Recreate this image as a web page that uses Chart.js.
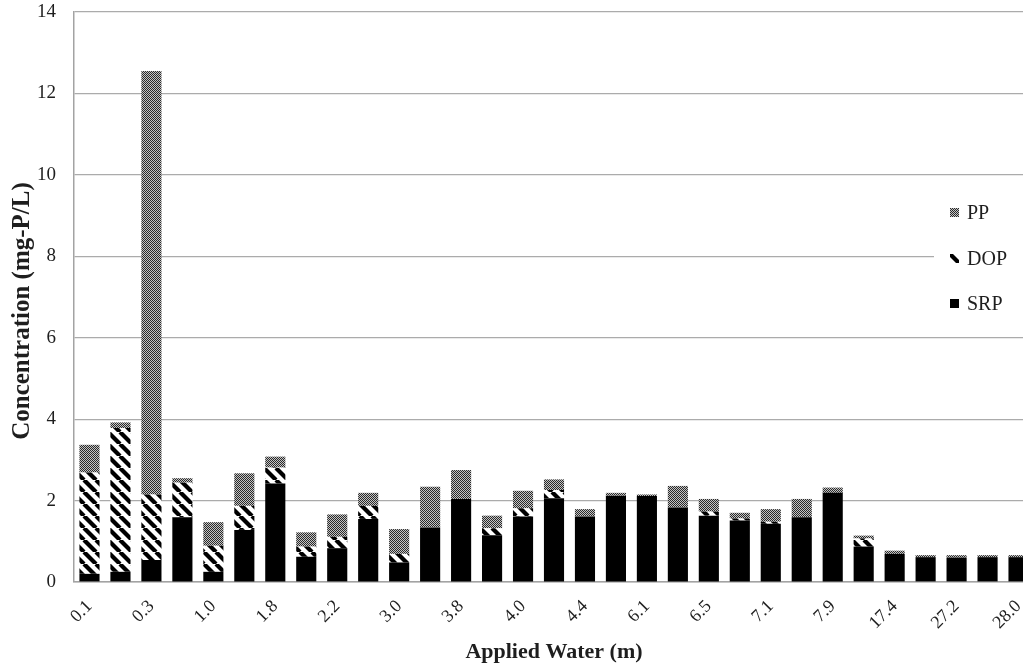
<!DOCTYPE html>
<html>
<head>
<meta charset="utf-8">
<script src="https://cdn.jsdelivr.net/npm/chart.js@4"></script>
<style>
  html, body { margin: 0; padding: 0; overflow: hidden; background: #fff; }
  #wrap { width: 1036px; height: 668px; position: relative; }
</style>
</head>
<body>
<div id="wrap"><canvas id="chart"></canvas></div>
<script>
// applied water (m) - only every other label is printed on the axis
const categories = ["0.1", "0.2", "0.3", "0.6", "1.0", "1.4", "1.8", "2.0", "2.2", "2.6",
  "3.0", "3.4", "3.8", "3.9", "4.0", "4.2", "4.4", "5.2", "6.1", "6.3",
  "6.5", "6.8", "7.1", "7.5", "7.9", "12.6", "17.4", "22.3", "27.2", "27.6", "28.0"];

const srp = [0.20, 0.25, 0.54, 1.59, 0.25, 1.28, 2.42, 0.62, 0.83, 1.55,
  0.48, 1.34, 2.04, 1.15, 1.61, 2.06, 1.61, 2.12, 2.11, 1.83,
  1.63, 1.51, 1.43, 1.59, 2.19, 0.87, 0.69, 0.61, 0.60, 0.61, 0.61];
const dop = [2.49, 3.53, 1.61, 0.85, 0.64, 0.59, 0.39, 0.25, 0.28, 0.32,
  0.21, 0, 0, 0.17, 0.20, 0.20, 0, 0, 0, 0,
  0.10, 0.05, 0.05, 0, 0, 0.20, 0, 0, 0, 0, 0];
const pp = [0.68, 0.14, 10.40, 0.11, 0.58, 0.80, 0.27, 0.35, 0.55, 0.32,
  0.61, 1.00, 0.71, 0.31, 0.43, 0.26, 0.18, 0.07, 0.04, 0.53,
  0.31, 0.14, 0.31, 0.45, 0.13, 0.07, 0.08, 0.05, 0.06, 0.05, 0.05];

const yTicks = [0, 2, 4, 6, 8, 10, 12, 14];
const yTitle = "Concentration (mg-P/L)";

const serif = "'Liberation Serif', 'Times New Roman', serif";
const textColor = "#1e1e1e";

// fill patterns like the Excel original
function dotPattern() {
  const c = document.createElement("canvas");
  c.width = 2; c.height = 2;
  const g = c.getContext("2d");
  g.fillStyle = "#c4c4c4"; g.fillRect(0, 0, 2, 2);
  g.fillStyle = "#2a2a2a"; g.fillRect(0, 0, 1, 1); g.fillRect(1, 1, 1, 1);
  return g.createPattern(c, "repeat");
}

function stripePattern() {
  const s = 12;
  const c = document.createElement("canvas");
  c.width = s; c.height = s;
  const g = c.getContext("2d");
  g.fillStyle = "#fff"; g.fillRect(0, 0, s, s);
  g.strokeStyle = "#000"; g.lineWidth = 4.2;
  for (const k of [-s, 0, s]) {
    g.beginPath(); g.moveTo(k, 0); g.lineTo(k + s, s); g.stroke();
  }
  return g.createPattern(c, "repeat");
}

const ctx = document.getElementById("chart").getContext("2d");
const ppFill = dotPattern();
const dopFill = stripePattern();

// legend sits inside the plot on the right, on a white box
// y title is drawn here too, it sits a bit below the middle of the axis
const extras = {
  id: "extras",
  afterDraw(chart) {
    const c = chart.ctx;
    c.save();
    c.fillStyle = "#fff";
    c.fillRect(934, 186, 110, 142);
    const items = [
      { label: chart.data.datasets[2].label, fill: ppFill, y: 213 },
      { label: chart.data.datasets[1].label, fill: dopFill, y: 259 },
      { label: chart.data.datasets[0].label, fill: "#000", y: 304 }
    ];
    c.font = "20px " + serif;
    c.textBaseline = "middle";
    items.forEach(it => {
      c.fillStyle = it.fill;
      c.fillRect(950, it.y - 5, 9, 9);
      c.fillStyle = textColor;
      c.fillText(it.label, 967, it.y + 1);
    });

    c.translate(23, 311);
    c.rotate(-Math.PI / 2);
    c.font = "bold 25px " + serif;
    c.textAlign = "center";
    c.fillStyle = textColor;
    c.fillText(yTitle, 0, 0);
    c.restore();
  }
};

new Chart(ctx, {
  type: "bar",
  data: {
    labels: categories,
    datasets: [
      { label: "SRP", data: srp, backgroundColor: "#000" },
      { label: "DOP", data: dop, backgroundColor: dopFill },
      { label: "PP", data: pp, backgroundColor: ppFill }
    ]
  },
  options: {
    responsive: true,
    maintainAspectRatio: false,
    animation: false,
    barPercentage: 0.65,
    categoryPercentage: 1,
    layout: { padding: { top: 12, right: 2, left: 0, bottom: 0 } },
    plugins: {
      legend: { display: false },
      tooltip: { enabled: false }
    },
    scales: {
      x: {
        stacked: true,
        grid: { drawOnChartArea: false, drawTicks: false },
        border: { color: "#a3a3a3", width: 1.5 },
        ticks: {
          autoSkip: false,
          maxRotation: 45,
          minRotation: 45,
          padding: 14,
          color: textColor,
          font: { family: serif, size: 18 },
          callback: function (v, i) { return i % 2 === 0 ? this.getLabelForValue(v) : ""; }
        },
        title: {
          display: true,
          text: "Applied Water (m)",
          color: textColor,
          font: { family: serif, size: 22, weight: "bold" },
          padding: { top: 0, bottom: 2 }
        },
        afterFit: s => { s.height = 86; s.paddingLeft = 0; s.paddingRight = 0; }
      },
      y: {
        stacked: true,
        min: 0,
        max: 14,
        afterBuildTicks: s => { s.ticks = yTicks.map(v => ({ value: v })); },
        grid: { color: "#ababab", lineWidth: 1.2, drawTicks: false },
        border: { color: "#a3a3a3", width: 1.5 },
        ticks: {
          padding: 18,
          color: textColor,
          font: { family: serif, size: 19 }
        },
        title: { display: false },
        afterFit: s => { s.width = 74; s.paddingTop = 0; s.paddingBottom = 0; }
      }
    }
  },
  plugins: [extras]
});
</script>
</body>
</html>
